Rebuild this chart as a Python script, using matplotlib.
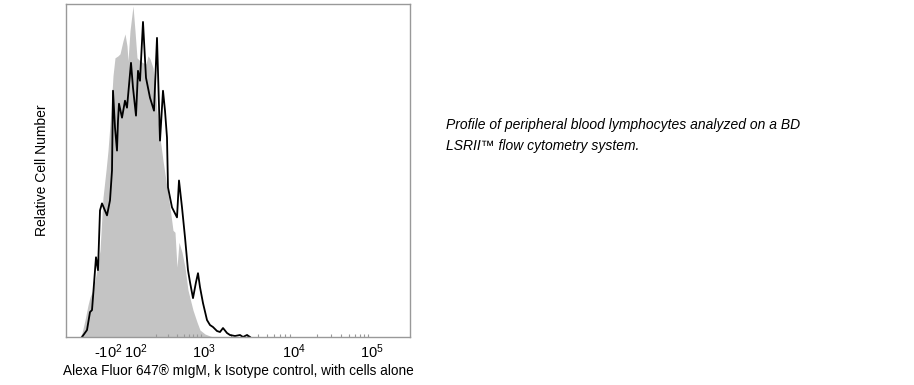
import numpy as np
import matplotlib
matplotlib.use("Agg")
import matplotlib.pyplot as plt

plt.rcParams['font.family'] = ['Liberation Sans', 'DejaVu Sans']
plt.rcParams['mathtext.fontset'] = 'custom'
plt.rcParams['mathtext.rm'] = 'Liberation Sans'
plt.rcParams['mathtext.it'] = 'Liberation Sans:italic'

# channel position along the (biexponential) axis, and relative counts
iso_x = [14, 16, 19, 22, 24, 27, 30, 34, 37, 40, 42, 45, 47, 49, 52, 54, 57, 59, 61, 62,
         64, 67, 69, 71, 74, 77, 80, 82, 84, 87, 89, 91, 94, 97, 101, 104, 107, 109, 111,
         113, 116, 119, 122, 127, 131, 134, 139, 144, 147, 150]
iso_y = [0, 4, 17, 32, 40, 47, 62, 87, 140, 167, 187, 227, 262, 280, 282, 284, 297, 304, 292, 277,
         307, 332, 307, 280, 277, 275, 274, 282, 279, 270, 252, 227, 200, 177, 150, 130, 107, 105, 70,
         95, 85, 70, 47, 27, 15, 7, 3, 1, 0, 0]

igm_x = [16, 21, 24, 26, 27, 30, 32, 34, 36, 41, 44, 46, 47, 49, 51, 52, 53, 56, 59, 61,
         65, 67, 70, 72, 74, 77, 80, 84, 88, 91, 94, 97, 99, 101, 102, 106, 111, 113, 116, 119,
         122, 124, 127, 130, 132, 134, 137, 141, 144, 147, 151, 154, 157, 161, 164, 169, 174, 177, 181, 184]
igm_y = [0, 7, 25, 27, 40, 80, 67, 127, 134, 122, 137, 167, 247, 210, 187, 217, 234, 220, 237, 230,
         275, 250, 222, 267, 257, 316, 260, 240, 227, 300, 197, 247, 227, 200, 150, 130, 120, 157, 130, 100,
         67, 55, 39, 55, 64, 50, 34, 17, 12, 10, 6, 5, 9, 4, 2, 1, 2, 0, 2, 0]

# decade positions on the display axis
tick_pos = [42, 70, 138, 228, 306]
tick_labels = [r'-10$^{2}$', r'10$^{2}$', r'10$^{3}$', r'10$^{4}$', r'10$^{5}$']

fig = plt.figure(figsize=(9.14, 3.85), dpi=100)
ax = fig.add_axes([66 / 914, 48 / 385, 344 / 914, 333 / 385])

ax.fill_between(iso_x, iso_y, 0, color='#c4c4c4', linewidth=0)
ax.plot(igm_x, igm_y, color='black', linewidth=1.3)

ax.set_xlim(0, 344)
ax.set_ylim(0, 334)
ax.set_yticks([])
ax.set_xticks(tick_pos)
ax.set_xticklabels(tick_labels, fontsize=10.5)
ax.tick_params(axis='x', length=0, pad=4)

# small minor ticks inside the axis for the log decades
minor = []
for a, b in zip(tick_pos[2:-1], tick_pos[3:]):
    for k in range(2, 10):
        minor.append(a + (b - a) * np.log10(k))
for k in range(2, 10):
    minor.append(tick_pos[1] + (tick_pos[2] - tick_pos[1]) * np.log10(k))
ax.set_xticks(minor, minor=True)
ax.tick_params(axis='x', which='minor', direction='in', length=2, color='#999999', width=0.8)

for s in ax.spines.values():
    s.set_color('#999999')
    s.set_linewidth(1)

ax.set_xlabel('Alexa Fluor 647® mIgM, k Isotype control, with cells alone', fontsize=9.8, labelpad=2)
ax.set_ylabel('Relative Cell Number', fontsize=10, labelpad=12)

fig.text(446 / 914, 1 - 125 / 385, 'Profile of peripheral blood lymphocytes analyzed on a BD',
         fontsize=10, style='italic', va='center', ha='left')
fig.text(446 / 914, 1 - 146 / 385, 'LSRII™ flow cytometry system.',
         fontsize=10, style='italic', va='center', ha='left')

fig.savefig('out.png', dpi=100)
